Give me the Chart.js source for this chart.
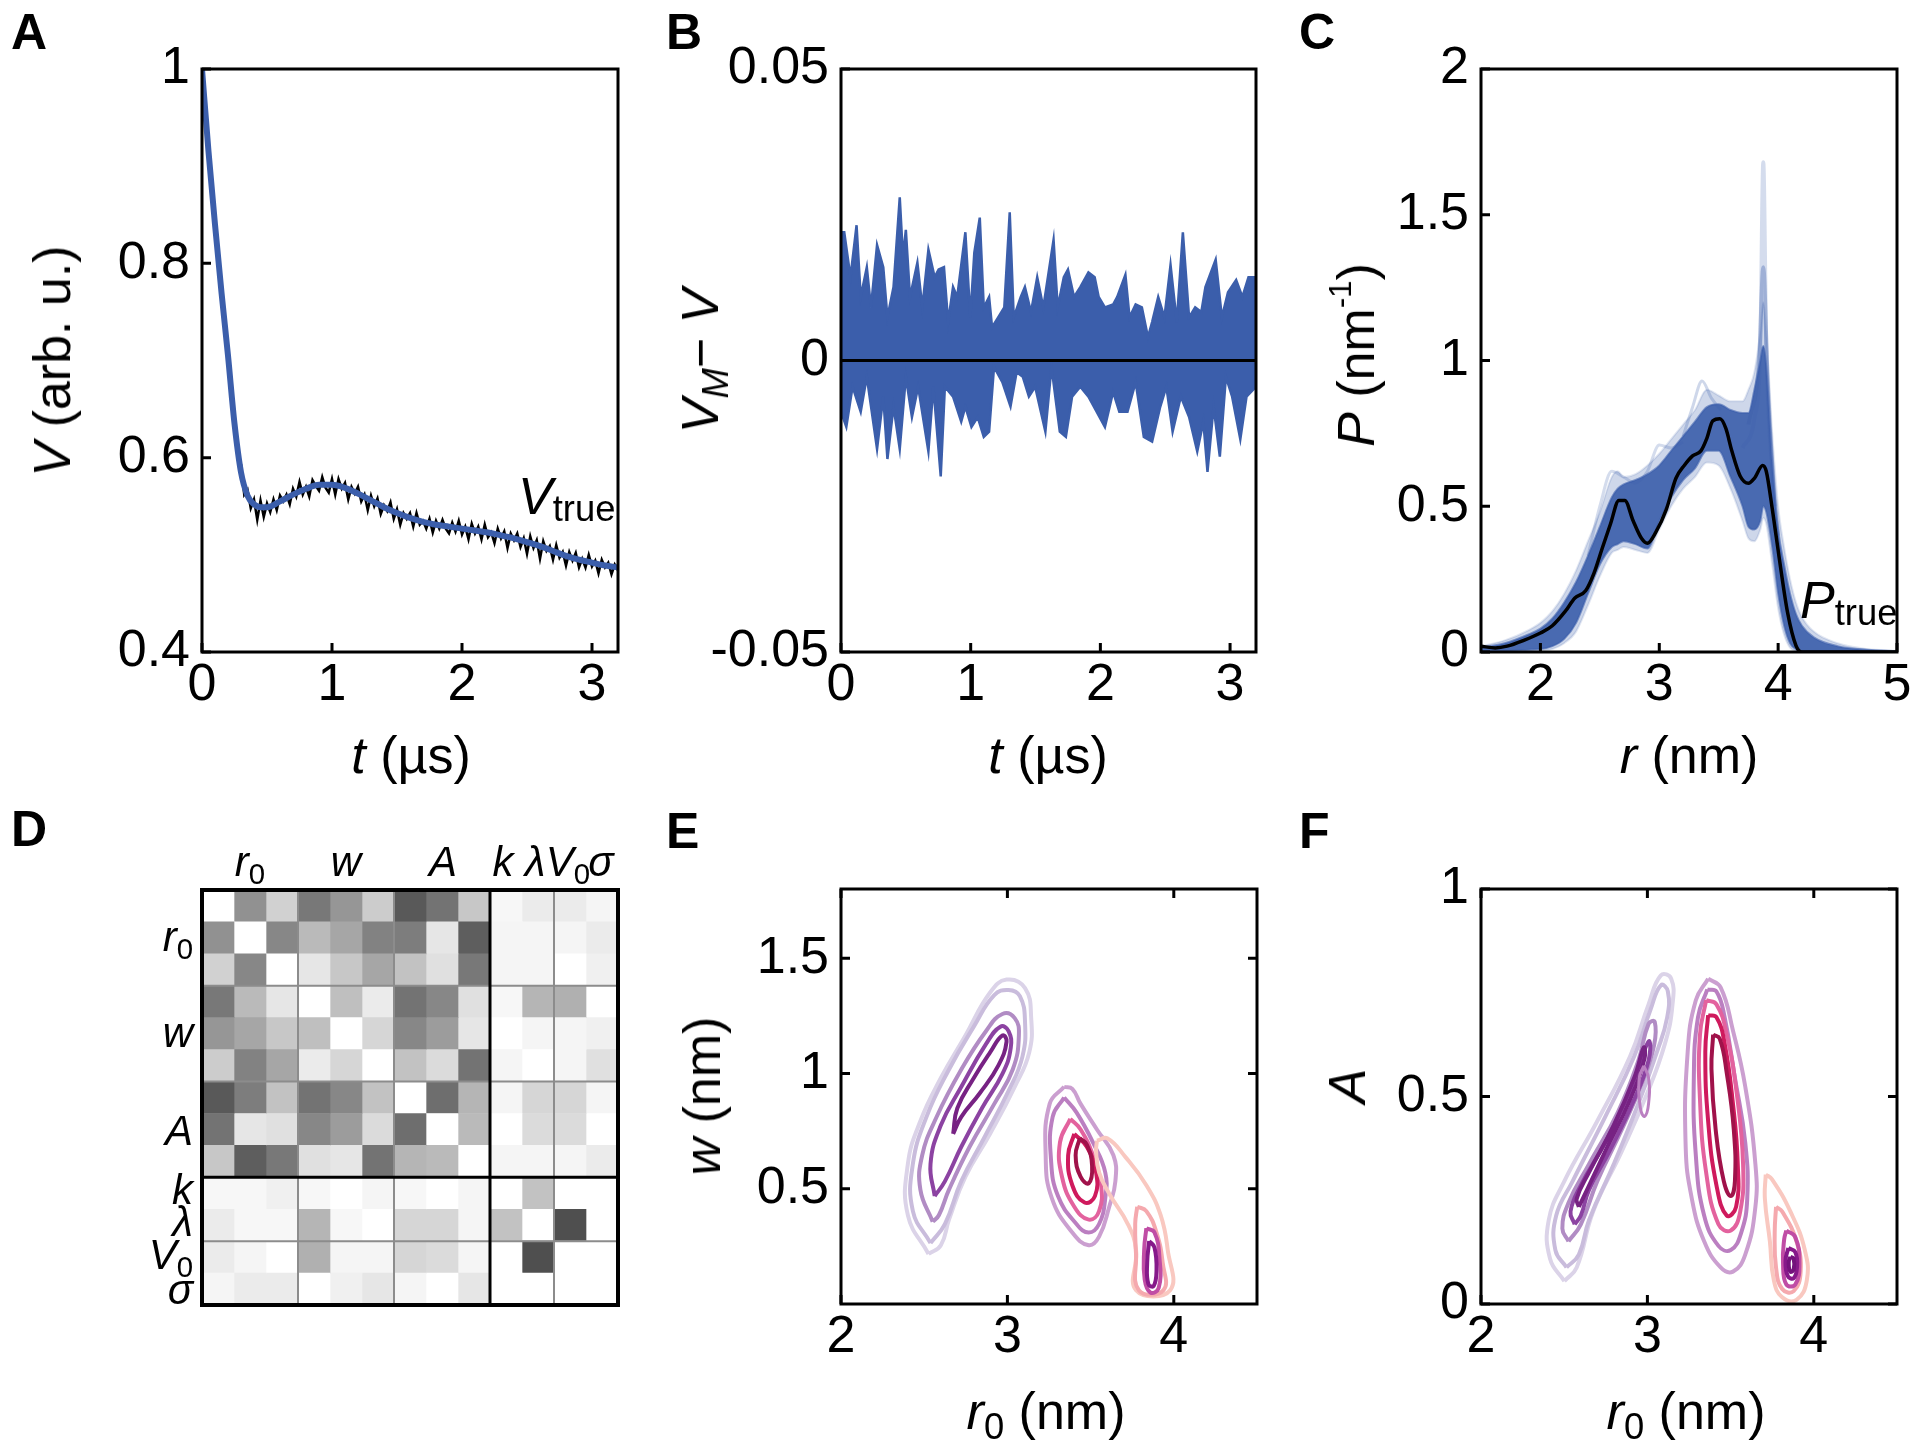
<!DOCTYPE html>
<html>
<head>
<meta charset="utf-8">
<script src="https://cdn.jsdelivr.net/npm/chart.js@4.4.1/dist/chart.umd.min.js"></script>
<style>
  body { margin: 0; background: #fff; width: 1920px; height: 1450px; position: relative; overflow: hidden;
         font-family: 'Liberation Sans', Arial, sans-serif; color: #000; }
  canvas { position: absolute; }
  .t { position: absolute; white-space: nowrap; line-height: 1; font-size: 52px; z-index: 2; }
  .c { transform: translate(-50%, -50%); }
  .r { transform: translate(-50%, -50%) rotate(-90deg); }
  .lab { position: absolute; font-weight: bold; font-size: 50px; line-height: 1; z-index: 2; }
  .sb { font-size: 0.7em; position: relative; top: 0.28em; font-style: normal; }
  .tr { font-size: 0.7em; position: relative; top: 0.18em; font-style: normal; }
  .sp { font-size: 0.6em; position: relative; top: -0.75em; }
  .m { font-size: 42px; font-style: italic; }
</style>
</head>
<body>

<div class="lab" style="left:11px;top:7px">A</div>
<div class="lab" style="left:666px;top:7px">B</div>
<div class="lab" style="left:1299px;top:7px">C</div>
<div class="lab" style="left:11px;top:804px">D</div>
<div class="lab" style="left:666px;top:806px">E</div>
<div class="lab" style="left:1299px;top:806px">F</div>

<div class="t r" style="left:52px;top:361px"><i>V</i> (arb. u.)</div>
<div class="t c" style="left:411px;top:755px"><i>t</i> (µs)</div>
<div class="t" style="left:518px;top:470px"><i>V</i><span class="tr">true</span></div>

<div class="t r" style="left:700px;top:361px"><i>V<span class="sb" style="font-style:italic">M</span></i>− <i>V</i></div>
<div class="t c" style="left:1048px;top:755px"><i>t</i> (µs)</div>

<div class="t r" style="left:1356px;top:355px"><i>P</i> (nm<span class="sp">-1</span>)</div>
<div class="t c" style="left:1689px;top:755px"><i>r</i> (nm)</div>
<div class="t" style="left:1800px;top:574px"><i>P</i><span class="tr">true</span></div>

<div class="t c m" style="left:250px;top:862px">r<span class="sb">0</span></div>
<div class="t c m" style="left:346px;top:862px">w</div>
<div class="t c m" style="left:443px;top:862px">A</div>
<div class="t c m" style="left:503px;top:862px">k</div>
<div class="t c m" style="left:535px;top:862px">λ</div>
<div class="t c m" style="left:568px;top:862px">V<span class="sb">0</span></div>
<div class="t c m" style="left:601px;top:862px">σ</div>

<div class="t m" style="right:1727px;top:937px;transform:translateY(-50%)">r<span class="sb">0</span></div>
<div class="t m" style="right:1727px;top:1033px;transform:translateY(-50%)">w</div>
<div class="t m" style="right:1727px;top:1131px;transform:translateY(-50%)">A</div>
<div class="t m" style="right:1727px;top:1190px;transform:translateY(-50%)">k</div>
<div class="t m" style="right:1727px;top:1222px;transform:translateY(-50%)">λ</div>
<div class="t m" style="right:1727px;top:1255px;transform:translateY(-50%)">V<span class="sb">0</span></div>
<div class="t m" style="right:1727px;top:1290px;transform:translateY(-50%)">σ</div>

<div class="t r" style="left:702px;top:1096px"><i>w</i> (nm)</div>
<div class="t c" style="left:1046px;top:1411px"><i>r</i><span class="sb">0</span> (nm)</div>
<div class="t r" style="left:1347px;top:1086px"><i>A</i></div>
<div class="t c" style="left:1686px;top:1411px"><i>r</i><span class="sb">0</span> (nm)</div>

<script>
// ---- A: time trace (µs) ----
const aFitT = [0, 0.05, 0.1, 0.15, 0.2, 0.25, 0.3, 0.35, 0.4, 0.45, 0.5, 0.6, 0.7, 0.8, 0.9, 1.0, 1.1, 1.2, 1.3, 1.4,
  1.5, 1.6, 1.7, 1.8, 1.9, 2.0, 2.1, 2.2, 2.3, 2.4, 2.5, 2.6, 2.7, 2.8, 2.9, 3.0, 3.1, 3.2];
const aFit = [1.0, 0.915, 0.84, 0.77, 0.705, 0.635, 0.585, 0.561, 0.552, 0.549, 0.549, 0.555, 0.562, 0.568, 0.572, 0.572,
  0.569, 0.563, 0.556, 0.549, 0.543, 0.538, 0.534, 0.531, 0.529, 0.527, 0.525, 0.523, 0.520, 0.517, 0.513, 0.509,
  0.504, 0.499, 0.495, 0.492, 0.489, 0.487];
const aStep = 0.025; // sampling of the measured trace
const aData = [1.000, 0.955, 0.918, 0.874, 0.842, 0.801, 0.771, 0.734, 0.709, 0.664,
  0.640, 0.600, 0.593, 0.562, 0.567, 0.548, 0.557, 0.536, 0.556, 0.539,
  0.553, 0.544, 0.557, 0.546, 0.561, 0.555, 0.562, 0.552, 0.568, 0.560,
  0.575, 0.562, 0.570, 0.560, 0.577, 0.571, 0.566, 0.580, 0.569, 0.564,
  0.578, 0.562, 0.578, 0.568, 0.574, 0.557, 0.570, 0.563, 0.570, 0.555,
  0.562, 0.546, 0.561, 0.550, 0.558, 0.542, 0.551, 0.545, 0.554, 0.537,
  0.547, 0.531, 0.543, 0.537, 0.543, 0.529, 0.543, 0.531, 0.535, 0.527,
  0.537, 0.523, 0.535, 0.527, 0.536, 0.527, 0.522, 0.533, 0.524, 0.535,
  0.521, 0.529, 0.516, 0.532, 0.522, 0.529, 0.516, 0.531, 0.518, 0.523,
  0.512, 0.527, 0.517, 0.524, 0.507, 0.522, 0.515, 0.522, 0.508, 0.517,
  0.501, 0.519, 0.507, 0.515, 0.496, 0.514, 0.504, 0.509, 0.495, 0.510,
  0.497, 0.503, 0.489, 0.503, 0.494, 0.502, 0.487, 0.496, 0.487, 0.500,
  0.488, 0.494, 0.481, 0.495, 0.487, 0.492, 0.480, 0.490, 0.484];
const aXTicks = [0, 1, 2, 3];
const aYTicks = [0.4, 0.6, 0.8, 1];

// ---- B: residual envelope ----
const bUpT = [0.000, 0.025, 0.073, 0.120, 0.152, 0.199, 0.231, 0.278, 0.326, 0.358, 0.405, 0.453, 0.478, 0.500, 0.532,
  0.589, 0.627, 0.674, 0.722, 0.753, 0.794, 0.826, 0.864, 0.896, 0.959, 0.997, 1.028, 1.070, 1.101, 1.142, 1.165,
  1.212, 1.259, 1.301, 1.332, 1.386, 1.418, 1.465, 1.513, 1.560, 1.639, 1.671, 1.718, 1.750, 1.797, 1.845, 1.908,
  1.956, 1.987, 2.035, 2.098, 2.130, 2.193, 2.225, 2.272, 2.320, 2.367, 2.399, 2.446, 2.494, 2.541, 2.589, 2.636,
  2.684, 2.731, 2.778, 2.810, 2.889, 2.937, 2.984, 3.047, 3.095, 3.142, 3.200];
const bUp = [0.0220, 0.0220, 0.0143, 0.0232, 0.0109, 0.0160, 0.0091, 0.0198, 0.0160, 0.0074, 0.0126, 0.0280, 0.0177,
  0.0224, 0.0109, 0.0168, 0.0091, 0.0190, 0.0143, 0.0156, 0.0160, 0.0066, 0.0126, 0.0109, 0.0220, 0.0074, 0.0185,
  0.0245, 0.0091, 0.0109, 0.0057, 0.0074, 0.0091, 0.0254, 0.0074, 0.0109, 0.0126, 0.0083, 0.0143, 0.0091, 0.0207,
  0.0091, 0.0143, 0.0156, 0.0109, 0.0126, 0.0151, 0.0143, 0.0109, 0.0091, 0.0096, 0.0109, 0.0147, 0.0074, 0.0096,
  0.0091, 0.0040, 0.0066, 0.0109, 0.0074, 0.0164, 0.0066, 0.0220, 0.0074, 0.0091, 0.0083, 0.0126, 0.0173, 0.0074,
  0.0117, 0.0138, 0.0109, 0.0143, 0.0143];
const bLoT = [0.000, 0.041, 0.089, 0.152, 0.199, 0.278, 0.326, 0.358, 0.405, 0.453, 0.500, 0.547, 0.595, 0.674, 0.712,
  0.769, 0.801, 0.864, 0.927, 0.959, 1.006, 1.054, 1.101, 1.142, 1.180, 1.244, 1.307, 1.354, 1.402, 1.449, 1.497,
  1.576, 1.623, 1.687, 1.734, 1.782, 1.845, 1.908, 1.972, 2.035, 2.098, 2.146, 2.209, 2.272, 2.335, 2.399, 2.462,
  2.509, 2.557, 2.620, 2.684, 2.747, 2.794, 2.826, 2.873, 2.921, 2.968, 3.016, 3.079, 3.127, 3.200];
const bLo = [-0.0088, -0.0114, -0.0045, -0.0088, -0.0028, -0.0152, -0.0062, -0.0169, -0.0079, -0.0152, -0.0028, -0.0097,
  -0.0045, -0.0156, -0.0045, -0.0199, -0.0045, -0.0062, -0.0105, -0.0079, -0.0114, -0.0097, -0.0131, -0.0122, -0.0011,
  -0.0037, -0.0079, -0.0020, -0.0028, -0.0062, -0.0045, -0.0122, -0.0011, -0.0122, -0.0131, -0.0062, -0.0045, -0.0062,
  -0.0088, -0.0114, -0.0054, -0.0088, -0.0088, -0.0037, -0.0131, -0.0139, -0.0079, -0.0045, -0.0122, -0.0062, -0.0097,
  -0.0156, -0.0105, -0.0191, -0.0079, -0.0165, -0.0028, -0.0062, -0.0135, -0.0062, -0.0045];
const bYTicks = [-0.05, 0, 0.05];

// ---- C: distance distributions ----
const cGrid = [1.5, 1.7, 1.9, 2.0, 2.1, 2.2, 2.3, 2.4, 2.5, 2.6, 2.65, 2.7, 2.8, 2.9, 3.0, 3.1, 3.2, 3.3, 3.4, 3.5, 3.6,
  3.7, 3.75, 3.8, 3.85, 3.875, 3.9, 3.95, 4.0, 4.05, 4.1, 4.15, 4.2, 4.3, 4.5, 4.75, 5.0];
const cHi = [0.015, 0.03, 0.06, 0.08, 0.115, 0.17, 0.24, 0.33, 0.43, 0.53, 0.56, 0.575, 0.59, 0.61, 0.64, 0.69, 0.74,
  0.79, 0.84, 0.85, 0.83, 0.82, 0.82, 0.9, 1.0, 1.05, 0.98, 0.65, 0.42, 0.3, 0.2, 0.13, 0.09, 0.05, 0.02, 0.008, 0.003];
const cLo = [0.004, 0.004, 0.008, 0.01, 0.02, 0.045, 0.1, 0.2, 0.3, 0.36, 0.37, 0.38, 0.37, 0.355, 0.45, 0.53, 0.59,
  0.63, 0.69, 0.69, 0.6, 0.5, 0.43, 0.42, 0.45, 0.5, 0.48, 0.36, 0.2, 0.09, 0.03, 0.01, 0.003, 0, 0, 0, 0];
const cHiFringe = [0.02, 0.04, 0.075, 0.1, 0.14, 0.2, 0.28, 0.38, 0.48, 0.6, 0.62, 0.6, 0.61, 0.64, 0.68, 0.73, 0.78,
  0.83, 0.9, 0.88, 0.86, 0.86, 0.9, 0.96, 1.1, 1.2, 1.1, 0.75, 0.5, 0.36, 0.25, 0.17, 0.12, 0.07, 0.03, 0.01, 0.004];
const cLoFringe = [0, 0, 0.003, 0.005, 0.01, 0.03, 0.07, 0.16, 0.26, 0.34, 0.35, 0.36, 0.35, 0.34, 0.42, 0.5, 0.56,
  0.6, 0.65, 0.64, 0.56, 0.45, 0.39, 0.38, 0.42, 0.46, 0.44, 0.3, 0.15, 0.06, 0.015, 0.004, 0, 0, 0, 0, 0];
const cSpk1R = [3.70, 3.80, 3.85, 3.875, 3.90, 3.95, 4.00];
const cSpk1P = [0.70, 0.80, 1.05, 1.68, 1.05, 0.62, 0.40];
const cSpk2R = [3.75, 3.84, 3.875, 3.91, 3.97];
const cSpk2P = [0.78, 1.0, 1.32, 0.95, 0.5];
const cOut1R = [2.40, 2.50, 2.60, 2.70, 2.80, 2.90, 3.00, 3.10, 3.20];
const cOut1P = [0.33, 0.50, 0.62, 0.60, 0.58, 0.62, 0.71, 0.70, 0.72];
const cOut2R = [3.20, 3.28, 3.36, 3.44, 3.52];
const cOut2P = [0.74, 0.84, 0.93, 0.87, 0.83];
const cTrueR = [1.50, 1.62, 1.72, 1.86, 2.00, 2.10, 2.21, 2.29, 2.38, 2.45, 2.52, 2.59, 2.66, 2.71, 2.78, 2.85, 2.90,
  2.97, 3.06, 3.14, 3.21, 3.28, 3.35, 3.40, 3.45, 3.51, 3.56, 3.61, 3.68, 3.75, 3.80, 3.87, 3.90, 3.95, 4.01, 4.08,
  4.15, 4.20, 5.00];
const cTrueP = [0.020, 0.014, 0.020, 0.040, 0.065, 0.090, 0.140, 0.185, 0.210, 0.270, 0.356, 0.440, 0.520, 0.520,
  0.450, 0.390, 0.373, 0.410, 0.490, 0.596, 0.640, 0.673, 0.690, 0.733, 0.793, 0.800, 0.767, 0.690, 0.604, 0.579,
  0.596, 0.640, 0.620, 0.493, 0.320, 0.134, 0.022, 0.000, 0.000];
const cXTicks = [2, 3, 4, 5];
const cYTicks = [0, 0.5, 1, 1.5, 2];

// ---- D: |correlation| matrix, rows r0 x3, w x3, A x3, k, lambda, V0, sigma ----
const dRows = ['r0-1', 'r0-2', 'r0-3', 'w-1', 'w-2', 'w-3', 'A-1', 'A-2', 'A-3', 'k', 'lambda', 'V0', 'sigma'];
const corrRows = [
  [0, 0.43, 0.18, 0.53, 0.41, 0.20, 0.65, 0.55, 0.22, 0.03, 0.08, 0.08, 0.04],
  [0.43, 0, 0.47, 0.27, 0.35, 0.49, 0.51, 0.10, 0.63, 0.04, 0.04, 0.04, 0.08],
  [0.18, 0.47, 0, 0.10, 0.22, 0.35, 0.24, 0.12, 0.53, 0.04, 0.04, 0, 0.06],
  [0.53, 0.27, 0.10, 0, 0.25, 0.08, 0.55, 0.47, 0.12, 0.03, 0.29, 0.31, 0],
  [0.41, 0.35, 0.22, 0.25, 0, 0.16, 0.47, 0.39, 0.10, 0, 0.04, 0.04, 0.06],
  [0.20, 0.49, 0.35, 0.08, 0.16, 0, 0.24, 0.14, 0.55, 0.04, 0, 0.04, 0.12],
  [0.65, 0.51, 0.24, 0.55, 0.47, 0.24, 0, 0.57, 0.29, 0.04, 0.16, 0.16, 0.04],
  [0.55, 0.10, 0.12, 0.47, 0.39, 0.14, 0.57, 0, 0.27, 0, 0.14, 0.14, 0],
  [0.22, 0.63, 0.53, 0.12, 0.10, 0.55, 0.29, 0.27, 0, 0.04, 0.04, 0.04, 0.08],
  [0.03, 0.03, 0.06, 0.03, 0, 0.04, 0.03, 0, 0.04, 0, 0.24, 0, 0],
  [0.08, 0.03, 0.03, 0.29, 0.03, 0, 0.16, 0.16, 0.04, 0.24, 0, 0.69, 0],
  [0.08, 0.04, 0, 0.31, 0.04, 0.04, 0.16, 0.14, 0.04, 0, 0.69, 0, 0],
  [0.04, 0.08, 0.08, 0, 0.06, 0.10, 0.04, 0, 0.10, 0, 0, 0, 0]
];
const dThin = [3, 6, 11];
const dThick = [9];

// ---- E: w vs r0 contours (component 1, 2, 3; outer -> inner) ----
const E1a = [[2.526,0.217],[2.402,0.385],[2.402,0.608],[2.477,0.794],[2.600,0.980],[2.748,1.165],[2.896,1.351],[2.995,1.407],[3.106,1.370],[3.143,1.240],[3.131,1.091],[3.044,0.942],[2.896,0.738],[2.748,0.552],[2.649,0.366],[2.600,0.255]];
const E1b = [[2.538,0.264],[2.432,0.403],[2.432,0.608],[2.514,0.812],[2.649,1.017],[2.798,1.203],[2.921,1.340],[3.007,1.362],[3.075,1.335],[3.106,1.221],[3.090,1.072],[3.007,0.924],[2.859,0.719],[2.723,0.533],[2.625,0.348]];
const E1c = [[2.551,0.357],[2.477,0.496],[2.488,0.645],[2.575,0.812],[2.723,1.017],[2.872,1.184],[2.970,1.258],[3.044,1.240],[3.069,1.165],[3.032,1.017],[2.921,0.868],[2.773,0.682],[2.649,0.496],[2.588,0.385]];
const E1d = [[2.563,0.468],[2.538,0.608],[2.600,0.775],[2.723,0.942],[2.872,1.128],[2.958,1.203],[3.007,1.184],[3.020,1.110],[2.970,0.998],[2.847,0.849],[2.723,0.682],[2.625,0.533]];
const E1e = [[2.674,0.738],[2.699,0.849],[2.798,0.980],[2.896,1.091],[2.970,1.165],[2.995,1.138],[2.946,1.035],[2.835,0.915],[2.723,0.812]];
const E2a = [[3.341,0.942],[3.254,0.868],[3.230,0.645],[3.267,0.459],[3.390,0.310],[3.489,0.255],[3.551,0.292],[3.612,0.422],[3.649,0.533],[3.637,0.645],[3.538,0.757],[3.440,0.868],[3.390,0.933]];
const E2b = [[3.341,0.896],[3.272,0.812],[3.262,0.626],[3.304,0.468],[3.415,0.347],[3.489,0.310],[3.551,0.347],[3.588,0.459],[3.588,0.571],[3.514,0.701],[3.415,0.831]];
const E2c = [[3.378,0.803],[3.316,0.701],[3.328,0.552],[3.402,0.422],[3.489,0.366],[3.551,0.403],[3.563,0.515],[3.514,0.645],[3.440,0.757]];
const E2d = [[3.402,0.738],[3.365,0.645],[3.390,0.515],[3.464,0.440],[3.526,0.468],[3.533,0.571],[3.477,0.682]];
const E2e = [[3.435,0.719],[3.410,0.645],[3.440,0.552],[3.489,0.524],[3.509,0.599],[3.477,0.692]];
const E3a = [[3.538,0.708],[3.600,0.719],[3.711,0.636],[3.835,0.515],[3.921,0.385],[3.963,0.236],[3.978,0.060],[3.773,0.060],[3.773,0.236],[3.723,0.348],[3.612,0.478],[3.551,0.571],[3.533,0.664]];
const E3b = [[3.780,0.422],[3.835,0.403],[3.896,0.310],[3.933,0.180],[3.938,0.060],[3.790,0.060],[3.773,0.217],[3.768,0.348]];
const E3c = [[3.835,0.329],[3.884,0.310],[3.914,0.199],[3.909,0.069],[3.859,0.050],[3.825,0.106],[3.822,0.236]];
const E3d = [[3.852,0.273],[3.884,0.245],[3.896,0.143],[3.879,0.078],[3.847,0.087],[3.840,0.180]];
const eXTicks = [2, 3, 4];
const eYTicks = [0.5, 1, 1.5];

// ---- F: A vs r0 contours ----
const F1a = [[2.501,0.055],[2.415,0.109],[2.407,0.202],[2.501,0.296],[2.699,0.441],[2.896,0.597],[3.007,0.722],[3.081,0.792],[3.143,0.784],[3.151,0.722],[3.106,0.628],[2.995,0.504],[2.847,0.369],[2.674,0.223],[2.575,0.088]];
const F1b = [[2.514,0.088],[2.447,0.130],[2.452,0.213],[2.551,0.296],[2.748,0.452],[2.921,0.597],[3.020,0.711],[3.081,0.768],[3.123,0.753],[3.119,0.691],[3.057,0.607],[2.946,0.483],[2.798,0.337],[2.649,0.202],[2.588,0.119]];
const F1c = [[2.526,0.151],[2.489,0.182],[2.526,0.244],[2.649,0.337],[2.822,0.462],[2.946,0.587],[3.007,0.675],[3.044,0.680],[3.040,0.623],[2.970,0.535],[2.847,0.421],[2.699,0.296],[2.600,0.192]];
const F1d = [[2.563,0.192],[2.538,0.223],[2.600,0.286],[2.748,0.390],[2.896,0.514],[2.978,0.607],[3.012,0.633],[3.007,0.587],[2.921,0.493],[2.773,0.369],[2.649,0.275],[2.600,0.213]];
const F1e = [[2.588,0.234],[2.575,0.254],[2.649,0.317],[2.798,0.431],[2.921,0.545],[2.978,0.618],[2.983,0.592],[2.896,0.493],[2.748,0.369],[2.637,0.275]];
const F2x = [[2.978,0.574],[3.007,0.545],[3.007,0.483],[2.983,0.452],[2.958,0.472],[2.951,0.545]];
const F2a = [[3.365,0.784],[3.291,0.732],[3.242,0.607],[3.230,0.379],[3.267,0.254],[3.341,0.151],[3.440,0.088],[3.514,0.078],[3.588,0.119],[3.649,0.234],[3.649,0.337],[3.588,0.524],[3.514,0.659],[3.440,0.763]];
const F2b = [[3.360,0.758],[3.304,0.691],[3.279,0.545],[3.291,0.358],[3.341,0.213],[3.427,0.140],[3.501,0.130],[3.563,0.171],[3.600,0.254],[3.588,0.389],[3.526,0.545],[3.464,0.691],[3.415,0.753]];
const F2c = [[3.353,0.732],[3.316,0.649],[3.316,0.493],[3.353,0.317],[3.427,0.192],[3.501,0.177],[3.558,0.223],[3.575,0.337],[3.538,0.504],[3.477,0.649],[3.415,0.722]];
const F2d = [[3.365,0.696],[3.348,0.607],[3.365,0.441],[3.415,0.286],[3.477,0.213],[3.533,0.234],[3.543,0.337],[3.514,0.483],[3.464,0.628],[3.415,0.691]];
const F2e = [[3.395,0.649],[3.385,0.566],[3.410,0.421],[3.459,0.296],[3.501,0.260],[3.526,0.296],[3.519,0.421],[3.477,0.556],[3.435,0.639]];
const F3a = [[3.711,0.312],[3.748,0.301],[3.859,0.223],[3.946,0.130],[3.958,0.057],[3.896,0.010],[3.810,0.016],[3.760,0.057],[3.736,0.151],[3.706,0.254]];
const F3b = [[3.773,0.234],[3.810,0.223],[3.896,0.151],[3.921,0.078],[3.879,0.031],[3.810,0.036],[3.773,0.088],[3.765,0.171]];
const F3c = [[3.835,0.177],[3.889,0.161],[3.914,0.099],[3.889,0.047],[3.835,0.047],[3.815,0.099],[3.822,0.156]];
const F3d = [[3.847,0.135],[3.889,0.125],[3.899,0.088],[3.879,0.062],[3.843,0.068],[3.830,0.104]];
const F3e = [[3.859,0.114],[3.879,0.109],[3.879,0.083],[3.859,0.078],[3.849,0.099]];
const fXTicks = [2, 3, 4];
const fYTicks = [0, 0.5, 1];

// colours
const BLUE = '#3b5eab';
const PURPLES = ['#dbd3e8', '#c9bcdc', '#b18cc4', '#8c43a2', '#772283'];
const MAGENTAS = ['#cb9fd0', '#bb7fc1', '#e3629e', '#cf1a5d', '#a0124a'];
const PINKS = ['#f9c8c0', '#f5a9ae', '#c04da5', '#86198a', '#74127c'];

Chart.defaults.font.family = "'Liberation Sans', Arial, sans-serif";
Chart.defaults.font.size = 52;
Chart.defaults.color = '#000';

// margins of each canvas around its plot box
const ML = 170, MR = 40, MT = 50, MB = 80;

// frame + inward tick marks, MATLAB-like
const frame = {
  id: 'frame',
  afterDatasetsDraw(chart, args, o) {
    const { ctx, chartArea: a } = chart;
    const { x, y } = chart.scales;
    ctx.save();
    ctx.strokeStyle = '#000';
    if (o.splits) {
      const edge = (s, v) => s.type === 'category' ? s.getPixelForValue(v - 0.5) : s.getPixelForValue(v);
      const seg = (list, w, col) => {
        ctx.lineWidth = w; ctx.strokeStyle = col; ctx.beginPath();
        list.forEach(v => {
          const px = edge(x, v), py = edge(y, v);
          ctx.moveTo(px, a.top); ctx.lineTo(px, a.bottom);
          ctx.moveTo(a.left, py); ctx.lineTo(a.right, py);
        });
        ctx.stroke();
      };
      seg(o.splits.thin, 2, '#8c8c8c');
      seg(o.splits.thick, 3, '#000');
    }
    ctx.strokeStyle = '#000';
    ctx.lineWidth = o.width || 3;
    if (o.ticks) {
      const len = 9;
      ctx.beginPath();
      x.ticks.forEach(t => {
        const p = x.getPixelForValue(t.value);
        ctx.moveTo(p, a.bottom); ctx.lineTo(p, a.bottom - len);
        if (o.mirror) { ctx.moveTo(p, a.top); ctx.lineTo(p, a.top + len); }
      });
      y.ticks.forEach(t => {
        const p = y.getPixelForValue(t.value);
        ctx.moveTo(a.left, p); ctx.lineTo(a.left + len, p);
        if (o.mirror) { ctx.moveTo(a.right, p); ctx.lineTo(a.right - len, p); }
      });
      ctx.stroke();
    }
    ctx.strokeRect(a.left, a.top, a.right - a.left, a.bottom - a.top);
    ctx.restore();
  }
};

function makeCanvas(left, top, w, h, m) {
  const c = document.createElement('canvas');
  c.width = w + m.l + m.r;
  c.height = h + m.t + m.b;
  c.style.left = (left - m.l) + 'px';
  c.style.top = (top - m.t) + 'px';
  document.body.appendChild(c);
  return c;
}
const M = { l: ML, r: MR, t: MT, b: MB };

function axis(min, max, ticks, isX) {
  return {
    type: 'linear', min, max,
    grid: { display: false, drawTicks: false },
    border: { display: false },
    ticks: { padding: isX ? 2 : 12, autoSkip: false, maxRotation: 0, callback: v => String(v) },
    afterBuildTicks: s => { s.ticks = ticks.map(value => ({ value })); },
    afterFit: s => { if (isX) s.height = MB; else s.width = ML; }
  };
}

function opts(x, y, mirror) {
  return {
    responsive: false, animation: false, events: [],
    layout: { padding: { top: MT, right: MR, left: 0, bottom: 0 } },
    plugins: { legend: { display: false }, tooltip: { enabled: false }, frame: { ticks: true, mirror } },
    scales: { x, y }
  };
}

const line = (xs, ys, color, width, extra) => Object.assign({
  data: xs.map((x, i) => ({ x, y: ys[i] })),
  showLine: true, borderColor: color, borderWidth: width, pointRadius: 0, fill: false
}, extra || {});

const ring = (pts, color, width) => ({
  data: pts.concat([pts[0]]).map(([x, y]) => ({ x, y })),
  showLine: true, borderColor: color, borderWidth: width || 4, pointRadius: 0, tension: 0.45, fill: false
});

// A
new Chart(makeCanvas(202, 69, 416, 583, M), {
  type: 'scatter',
  data: { datasets: [
    line(aFitT, aFit, BLUE, 6, { tension: 0.4, cubicInterpolationMode: 'monotone' }),
    line(aData.map((v, i) => i * aStep), aData, '#000', 2.5)
  ] },
  options: opts(axis(0, 3.2, aXTicks, true), axis(0.4, 1, aYTicks, false), false),
  plugins: [frame]
});

// B
new Chart(makeCanvas(841, 69, 415, 583, M), {
  type: 'scatter',
  data: { datasets: [
    line([0, 3.2], [0, 0], '#000', 3),
    line(bUpT, bUp, BLUE, 2.5, { fill: 'origin', backgroundColor: BLUE }),
    line(bLoT, bLo, BLUE, 2.5, { fill: 'origin', backgroundColor: BLUE })
  ] },
  options: opts(axis(0, 3.2, aXTicks, true), axis(-0.05, 0.05, bYTicks, false), false),
  plugins: [frame]
});

// C
const smooth = { tension: 0.4, cubicInterpolationMode: 'monotone' };
new Chart(makeCanvas(1481, 69, 416, 583, M), {
  type: 'scatter',
  data: { datasets: [
    line(cTrueR, cTrueP, '#000', 3.5, smooth),
    line(cGrid, cHi, 'rgba(59,94,171,0.6)', 2, Object.assign({ fill: '+1', backgroundColor: 'rgba(59,94,171,0.9)' }, smooth)),
    line(cGrid, cLo, 'rgba(59,94,171,0.6)', 2, smooth),
    line(cGrid, cHiFringe, 'rgba(59,94,171,0.15)', 2, Object.assign({ fill: '+1', backgroundColor: 'rgba(59,94,171,0.25)' }, smooth)),
    line(cGrid, cLoFringe, 'rgba(59,94,171,0.15)', 2, smooth),
    line(cSpk1R, cSpk1P, 'rgba(59,94,171,0.22)', 4, smooth),
    line(cSpk2R, cSpk2P, 'rgba(59,94,171,0.35)', 4, smooth),
    line(cOut1R, cOut1P, 'rgba(59,94,171,0.22)', 3, smooth),
    line(cOut2R, cOut2P, 'rgba(59,94,171,0.25)', 3, smooth)
  ] },
  options: opts(axis(1.5, 5, cXTicks, true), axis(0, 2, cYTicks, false), false),
  plugins: [frame]
});

// D
const gray = v => { const g = Math.round(255 * (1 - v)); return `rgb(${g},${g},${g})`; };
new Chart(makeCanvas(202, 890, 416, 415, { l: 10, r: 10, t: 10, b: 10 }), {
  type: 'bar',
  data: {
    labels: dRows,
    datasets: dRows.map((name, j) => ({
      label: name,
      data: dRows.map(() => 1),
      backgroundColor: corrRows.map(row => gray(row[j])),
      borderWidth: 0, barPercentage: 1, categoryPercentage: 1
    }))
  },
  options: {
    indexAxis: 'y', responsive: false, animation: false, events: [],
    layout: { padding: 10 },
    plugins: { legend: { display: false }, tooltip: { enabled: false },
      frame: { ticks: false, width: 4, splits: { thin: dThin, thick: dThick } } },
    scales: {
      x: { display: false, stacked: true, min: 0, max: dRows.length },
      y: { display: false, stacked: true }
    }
  },
  plugins: [frame]
});

// E
const eSets = [
  ring(E1a, PURPLES[0]), ring(E1b, PURPLES[1]), ring(E1c, PURPLES[2]), ring(E1d, PURPLES[3]), ring(E1e, PURPLES[4]),
  ring(E2a, MAGENTAS[0]), ring(E2b, MAGENTAS[1]), ring(E2c, MAGENTAS[2]), ring(E2d, MAGENTAS[3]), ring(E2e, MAGENTAS[4]),
  ring(E3a, PINKS[0]), ring(E3b, PINKS[1]), ring(E3c, PINKS[2]), ring(E3d, PINKS[3])
].reverse();
new Chart(makeCanvas(841, 889, 416, 415, M), {
  type: 'scatter',
  data: { datasets: eSets },
  options: opts(axis(2, 4.5, eXTicks, true), axis(0, 1.8, eYTicks, false), true),
  plugins: [frame]
});

// F
const fSets = [
  ring(F1a, PURPLES[0]), ring(F1b, PURPLES[1]), ring(F1c, PURPLES[2]), ring(F1d, PURPLES[3]), ring(F1e, PURPLES[4]),
  ring(F2x, MAGENTAS[1], 3),
  ring(F2a, MAGENTAS[0]), ring(F2b, MAGENTAS[1]), ring(F2c, MAGENTAS[2]), ring(F2d, MAGENTAS[3]), ring(F2e, MAGENTAS[4]),
  ring(F3a, PINKS[0]), ring(F3b, PINKS[1]), ring(F3c, PINKS[2]), ring(F3d, PINKS[3]), ring(F3e, PINKS[4])
].reverse();
new Chart(makeCanvas(1481, 889, 416, 415, M), {
  type: 'scatter',
  data: { datasets: fSets },
  options: opts(axis(2, 4.5, fXTicks, true), axis(0, 1, fYTicks, false), true),
  plugins: [frame]
});
</script>
</body>
</html>
